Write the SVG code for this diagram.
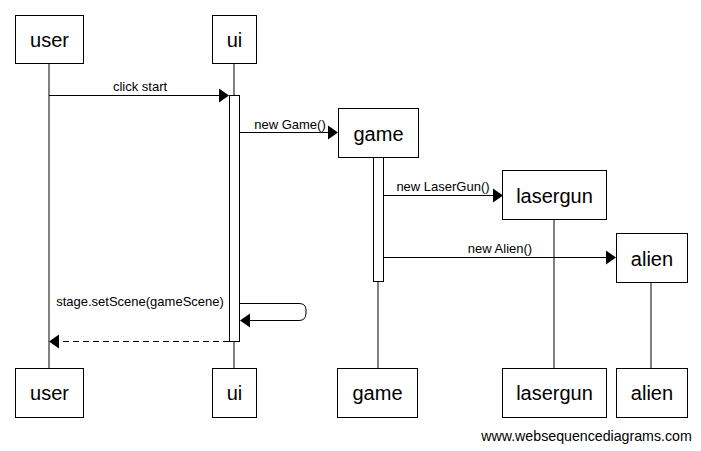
<svg xmlns="http://www.w3.org/2000/svg" width="701" height="451" viewBox="0 0 701 451">
<style>
.box{fill:#fff;stroke:#000;stroke-width:1}
.nl{font-family:"Liberation Sans",Arial,sans-serif;font-size:20px;text-anchor:middle;fill:#000}
.ml{font-family:"Liberation Sans",Arial,sans-serif;font-size:13px;text-anchor:middle;fill:#000}
.ln{stroke:#000;stroke-width:1;fill:none}
.act{fill:#fff;stroke:#000;stroke-width:1}
</style>
<rect width="701" height="451" fill="#fff"/>
<g id="lifelines">
<line class="ln" x1="49" y1="63" x2="49" y2="368"/>
<line class="ln" x1="234" y1="63" x2="234" y2="368"/>
<line class="ln" x1="378" y1="157" x2="378" y2="368"/>
<line class="ln" x1="554" y1="219" x2="554" y2="368"/>
<line class="ln" x1="651" y1="282" x2="651" y2="368"/>
</g>
<g id="activations">
<rect class="act" x="229.5" y="95.5" width="10" height="246"/>
<rect class="act" x="373.5" y="157.5" width="10" height="124"/>
</g>
<g id="connectors">
<line class="ln" x1="49" y1="95.5" x2="220" y2="95.5"/>
<polygon points="229,95.5 219,88.5 219,102.5" fill="#000"/>
<text class="ml" x="140" y="91">click start</text>
<line class="ln" x1="240" y1="132.5" x2="329" y2="132.5"/>
<polygon points="338,132.5 328,125.5 328,139.5" fill="#000"/>
<text class="ml" x="290" y="129">new Game()</text>
<line class="ln" x1="384" y1="195.5" x2="494" y2="195.5"/>
<polygon points="503,195.5 493,188.5 493,202.5" fill="#000"/>
<text class="ml" x="443" y="191">new LaserGun()</text>
<line class="ln" x1="384" y1="257.5" x2="607" y2="257.5"/>
<polygon points="616,257.5 606,250.5 606,264.5" fill="#000"/>
<text class="ml" x="500" y="253">new Alien()</text>
<path class="ln" d="M240,303.5 H299 Q306,303.5 306,310 V313 Q306,320.5 299,320.5 H249"/>
<polygon points="240,320.5 250,313.5 250,327.5" fill="#000"/>
<text class="ml" x="140" y="306">stage.setScene(gameScene)</text>
<line class="ln" x1="229" y1="341.5" x2="58" y2="341.5" stroke-dasharray="6,4"/>
<polygon points="49,341.5 59,334.5 59,348.5" fill="#000"/>
</g>
<g id="user-top"><rect class="box" x="15.5" y="15.5" width="68" height="48"/><text class="nl" x="49.5" y="47">user</text></g>
<g id="ui-top"><rect class="box" x="212.5" y="15.5" width="44" height="48"/><text class="nl" x="234.5" y="47">ui</text></g>
<g id="game-top"><rect class="box" x="338.5" y="108.5" width="80" height="49"/><text class="nl" x="378.5" y="141">game</text></g>
<g id="lasergun-top"><rect class="box" x="502.5" y="170.5" width="104" height="49"/><text class="nl" x="554.5" y="203">lasergun</text></g>
<g id="alien-top"><rect class="box" x="616.5" y="233.5" width="71" height="49"/><text class="nl" x="652" y="266">alien</text></g>
<g id="user-bottom"><rect class="box" x="15.5" y="368.5" width="68" height="49"/><text class="nl" x="49.5" y="400">user</text></g>
<g id="ui-bottom"><rect class="box" x="212.5" y="368.5" width="44" height="49"/><text class="nl" x="234.5" y="400">ui</text></g>
<g id="game-bottom"><rect class="box" x="337.5" y="368.5" width="80" height="49"/><text class="nl" x="377.5" y="400">game</text></g>
<g id="lasergun-bottom"><rect class="box" x="502.5" y="368.5" width="104" height="49"/><text class="nl" x="554.5" y="400">lasergun</text></g>
<g id="alien-bottom"><rect class="box" x="616.5" y="368.5" width="71" height="49"/><text class="nl" x="652" y="400">alien</text></g>
<text x="586.5" y="441" font-family="Liberation Sans,Arial,sans-serif" font-size="14.2" text-anchor="middle" fill="#000">www.websequencediagrams.com</text>
</svg>
